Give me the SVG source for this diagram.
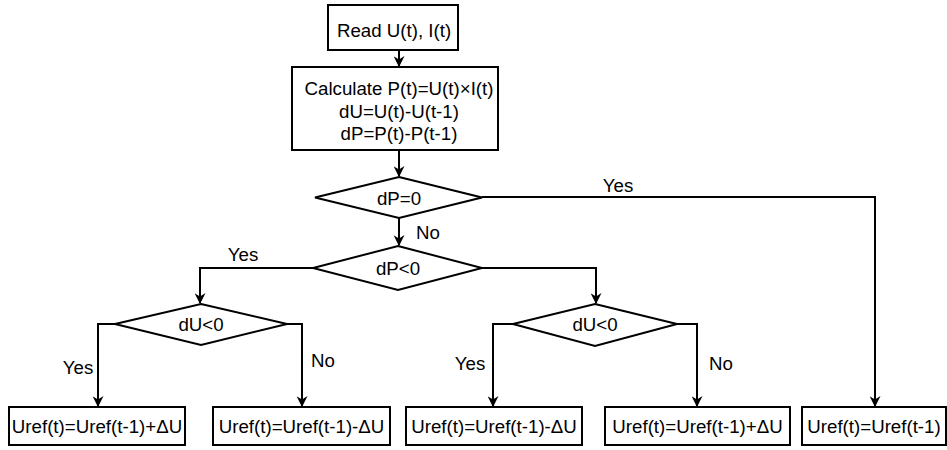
<svg xmlns="http://www.w3.org/2000/svg" width="947" height="450" viewBox="0 0 947 450">
  <style>
    .box { fill: #ffffff; stroke: #000000; stroke-width: 2; }
    .txt { font-family: "Liberation Sans", Arial, sans-serif; font-size: 18.7px; fill: #000000; text-anchor: middle; dominant-baseline: central; }
    .edge { fill: none; stroke: #000000; stroke-width: 2; marker-end: url(#arrow); }
  </style>
  <defs>
    <marker id="arrow" viewBox="0 0 10 10" refX="9" refY="5" markerWidth="11" markerHeight="11" markerUnits="userSpaceOnUse" orient="auto">
      <path d="M0,0 L10,5 L0,10 L3,5 Z" fill="#000000"/>
    </marker>
  </defs>
  <rect width="947" height="450" fill="#ffffff"/>

  <g id="connectors">
    <path class="edge" d="M399,50 V66"/>
    <path class="edge" d="M399,150 V176"/>
    <path class="edge" d="M399,218 V245"/>
    <path class="edge" d="M482,197 H875 V406"/>
    <path class="edge" d="M313,268 H200 V303"/>
    <path class="edge" d="M482,268 H596 V303"/>
    <path class="edge" d="M115,324 H98 V406"/>
    <path class="edge" d="M287,324 H302 V406"/>
    <path class="edge" d="M513,324 H493 V406"/>
    <path class="edge" d="M677,324 H697 V406"/>
    <text class="txt" x="618" y="185">Yes</text>
    <text class="txt" x="428" y="232">No</text>
    <text class="txt" x="243" y="254">Yes</text>
    <text class="txt" x="78" y="367">Yes</text>
    <text class="txt" x="323" y="360">No</text>
    <text class="txt" x="470" y="363">Yes</text>
    <text class="txt" x="721" y="363">No</text>
  </g>

  <g id="read">
    <rect class="box" x="328" y="5" width="130" height="45"/>
    <text class="txt" x="394" y="30">Read U(t), I(t)</text>
  </g>

  <g id="calculate">
    <rect class="box" x="292" y="67" width="206" height="83"/>
    <text class="txt" x="399" y="88">Calculate P(t)=U(t)×I(t)</text>
    <text class="txt" x="399" y="111">dU=U(t)-U(t-1)</text>
    <text class="txt" x="399" y="133">dP=P(t)-P(t-1)</text>
  </g>

  <g id="dp-zero">
    <polygon class="box" points="399,177 482,197.5 399,218 315,197.5"/>
    <text class="txt" x="399" y="198">dP=0</text>
  </g>

  <g id="dp-negative">
    <polygon class="box" points="398,246 482,268 398,290 313,268"/>
    <text class="txt" x="398" y="268">dP&lt;0</text>
  </g>

  <g id="du-negative-left">
    <polygon class="box" points="201,304 287,324 201,345 115,324"/>
    <text class="txt" x="201" y="324">dU&lt;0</text>
  </g>

  <g id="du-negative-right">
    <polygon class="box" points="595,304 677,324 595,346 513,324"/>
    <text class="txt" x="595" y="324">dU&lt;0</text>
  </g>

  <g id="uref-plus-left">
    <rect class="box" x="9" y="407" width="176" height="38"/>
    <text class="txt" x="97" y="426">Uref(t)=Uref(t-1)+ΔU</text>
  </g>

  <g id="uref-minus-left">
    <rect class="box" x="213" y="407" width="177" height="38"/>
    <text class="txt" x="301.5" y="426">Uref(t)=Uref(t-1)-ΔU</text>
  </g>

  <g id="uref-minus-right">
    <rect class="box" x="406" y="407" width="176" height="38"/>
    <text class="txt" x="494" y="426">Uref(t)=Uref(t-1)-ΔU</text>
  </g>

  <g id="uref-plus-right">
    <rect class="box" x="605" y="407" width="185" height="38"/>
    <text class="txt" x="697.5" y="426">Uref(t)=Uref(t-1)+ΔU</text>
  </g>

  <g id="uref-hold">
    <rect class="box" x="802" y="407" width="144" height="38"/>
    <text class="txt" x="874" y="426">Uref(t)=Uref(t-1)</text>
  </g>
</svg>
